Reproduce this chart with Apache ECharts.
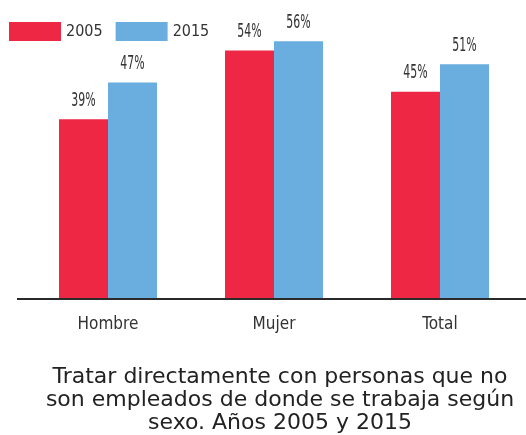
<!DOCTYPE html>
<html>
<head>
<meta charset="utf-8">
<script src="https://cdn.jsdelivr.net/npm/echarts@6/dist/echarts.min.js"></script>
<style>
  html, body { margin: 0; padding: 0; background: #fff; }
  #chart { width: 526px; height: 435px; }
</style>
</head>
<body>
<div id="chart"></div>
<script>
var categories = ['Hombre', 'Mujer', 'Total'];
var values2005 = [39, 54, 45];
var values2015 = [47, 56, 51];
var seriesNames = ['2005', '2015'];
var titleText = 'Tratar directamente con personas que no\nson empleados de donde se trabaja según\nsexo. Años 2005 y 2015';

var narrow = '"DejaVu Sans Condensed", "Liberation Sans Narrow", sans-serif';
var BAR_W = 49;

var chart = echarts.init(document.getElementById('chart'));

// etiquetas estrechas encima de cada barra (custom para poder comprimir el texto)
function labelSeries(name, values, side) {
    return {
        name: name,
        type: 'custom',
        silent: true,
        data: values.map(function (v, i) { return [i, v]; }),
        renderItem: function (params, api) {
            var pt = api.coord([api.value(0), api.value(1)]);
            return {
                type: 'text',
                x: pt[0] + side * BAR_W / 2,
                y: pt[1] - 9,
                scaleX: 0.64,
                style: {
                    text: api.value(1) + '%',
                    textAlign: 'center',
                    textVerticalAlign: 'bottom',
                    fontFamily: narrow,
                    fontSize: 19,
                    fill: '#333'
                }
            };
        }
    };
}

chart.setOption({
    animation: false,
    title: {
        text: titleText,
        left: 275,
        top: 361,
        textAlign: 'center',
        textStyle: {
            fontFamily: '"DejaVu Sans", sans-serif',
            fontWeight: 'normal',
            fontSize: 22,
            lineHeight: 23,
            color: '#222'
        }
    },
    legend: {
        left: 4,
        top: 17,
        itemWidth: 52,
        itemHeight: 19,
        itemGap: 13,
        icon: 'rect',
        data: seriesNames,
        textStyle: { fontFamily: narrow, fontSize: 16, color: '#333' }
    },
    grid: { left: 25, right: 3, top: 23, height: 275 },
    xAxis: {
        type: 'category',
        data: categories,
        axisLine: { show: false },
        axisTick: { show: false },
        axisLabel: { margin: 18, fontFamily: narrow, fontSize: 17, color: '#333' }
    },
    yAxis: {
        type: 'value',
        min: 0,
        max: 60,
        show: false,
        splitLine: { show: false }
    },
    graphic: [{
        type: 'line',
        shape: { x1: 17, y1: 299, x2: 526, y2: 299 },
        style: { stroke: '#2a2a2a', lineWidth: 2 }
    }],
    series: [{
        name: seriesNames[0],
        type: 'bar',
        data: values2005,
        barWidth: BAR_W,
        barGap: '0%',
        itemStyle: { color: '#EE2745' }
    }, {
        name: seriesNames[1],
        type: 'bar',
        data: values2015,
        barWidth: BAR_W,
        barGap: '0%',
        itemStyle: { color: '#6AADDF' }
    },
    labelSeries('lab2005', values2005, -1),
    labelSeries('lab2015', values2015, 1)]
});
</script>
</body>
</html>
